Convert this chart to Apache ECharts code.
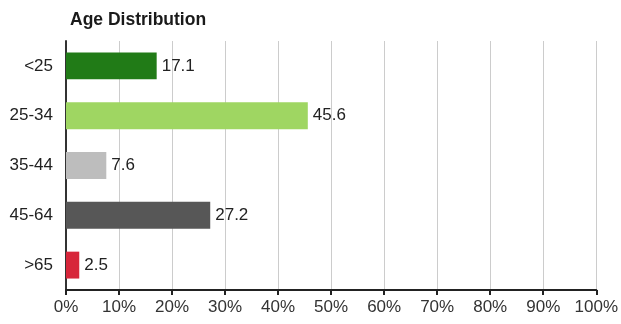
<!DOCTYPE html>
<html>
<head>
<meta charset="utf-8">
<script src="https://cdn.jsdelivr.net/npm/echarts@6/dist/echarts.min.js"></script>
<style>
  html, body { margin: 0; padding: 0; background: #fff; }
  #chart { width: 621px; height: 324px; }
</style>
</head>
<body>
<div id="chart"></div>
<script>
// Age groups and their share of the total (percent)
const categories = ['<25', '25-34', '35-44', '45-64', '>65'];
const values = [17.1, 45.6, 7.6, 27.2, 2.5];
const barColors = ['#217b17', '#9fd662', '#bdbdbd', '#575757', '#d7263a'];
const tickValues = [0, 10, 20, 30, 40, 50, 60, 70, 80, 90, 100];

const FONT = 'Liberation Sans, Arial, sans-serif';

const chart = echarts.init(document.getElementById('chart'));
chart.setOption({
  animation: false,
  textStyle: { fontFamily: FONT },
  title: {
    text: 'Age Distribution',
    left: 65,
    top: 6,
    textStyle: { fontSize: 17.5, fontWeight: 'bold', color: '#1a1a1a', fontFamily: FONT }
  },
  grid: { left: 66, right: 22, top: 41, bottom: 34, containLabel: false },
  xAxis: {
    type: 'value',
    min: tickValues[0],
    max: tickValues[tickValues.length - 1],
    interval: 10,
    axisLine: { show: true, lineStyle: { color: '#222', width: 2 } },
    axisTick: { show: true, length: 5, lineStyle: { color: '#222', width: 2 } },
    axisLabel: { formatter: '{value}%', fontSize: 17, color: '#333', margin: 9 },
    splitLine: { show: true, lineStyle: { color: '#cccccc', width: 1 } }
  },
  yAxis: {
    type: 'category',
    data: categories,
    inverse: true,
    axisLine: { show: true, lineStyle: { color: '#333', width: 2 } },
    axisTick: { show: false },
    axisLabel: { fontSize: 17, color: '#222', margin: 13, padding: [4, 0, 0, 0] }
  },
  series: [{
    type: 'bar',
    data: values.map((v, i) => ({ value: v, itemStyle: { color: barColors[i] } })),
    barWidth: '54%',
    label: {
      show: true,
      position: 'right',
      distance: 5,
      fontSize: 17,
      color: '#222',
      padding: [4, 0, 0, 0],
      formatter: p => p.value.toFixed(1)
    }
  }]
});
</script>
</body>
</html>
